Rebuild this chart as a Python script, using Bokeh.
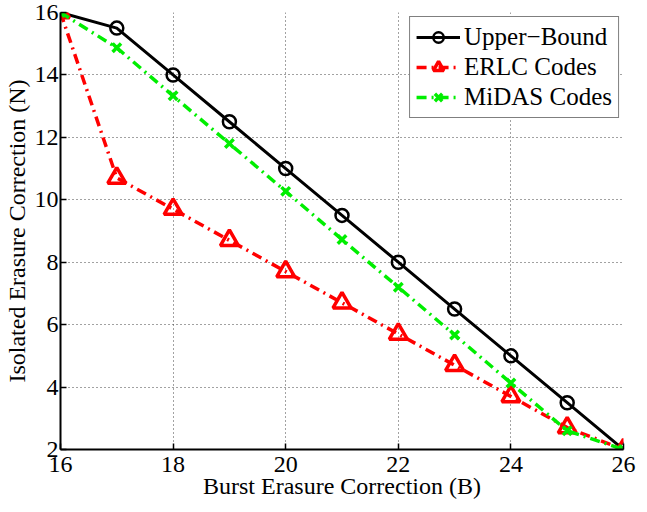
from bokeh.plotting import figure
from bokeh.models import Range1d, FixedTicker, Legend
from bokeh.embed import file_html
from bokeh.resources import INLINE

burst = [16, 17, 18, 19, 20, 21, 22, 23, 24, 25, 26]
upper_bound = [16, 15.5, 14, 12.5, 11, 9.5, 8, 6.5, 5, 3.5, 2]
erlc = [16, 10.7, 9.7, 8.7, 7.7, 6.7, 5.7, 4.7, 3.7, 2.7, 2]
midas = [16, 14.87, 13.33, 11.8, 10.27, 8.73, 7.2, 5.67, 4.13, 2.6, 2]
x_ticks = [16, 18, 20, 22, 24, 26]
y_ticks = [2, 4, 6, 8, 10, 12, 14, 16]

FONT = "Liberation Serif"

p = figure(width=639, height=504, output_backend="svg", toolbar_location=None,
           x_range=Range1d(16, 26), y_range=Range1d(2, 16),
           min_border_left=57, min_border_right=16, min_border_top=12, min_border_bottom=55)
p.outline_line_color = None
p.background_fill_color = "white"
p.border_fill_color = "white"

for ax in (p.xaxis[0], p.yaxis[0]):
    ax.major_label_text_font = FONT
    ax.major_label_text_font_size = "24px"
    ax.major_label_text_color = "black"
    ax.axis_label_text_font = FONT
    ax.axis_label_text_font_size = "24px"
    ax.axis_label_text_font_style = "normal"
    ax.axis_label_text_color = "black"
    ax.axis_line_width = 2
    ax.axis_line_color = "black"
    ax.major_tick_in = 6
    ax.major_tick_out = 0
    ax.major_tick_line_width = 1.5
    ax.minor_tick_line_color = None
    ax.major_label_standoff = 2

p.xaxis[0].ticker = FixedTicker(ticks=x_ticks)
p.yaxis[0].ticker = FixedTicker(ticks=y_ticks)
p.xaxis[0].axis_label = "Burst Erasure Correction (B)"
p.yaxis[0].axis_label = "Isolated Erasure Correction (N)"
p.xaxis[0].major_label_standoff = 7
p.xaxis[0].axis_label_standoff = -2
p.yaxis[0].axis_label_standoff = 2

for g in (p.xgrid[0], p.ygrid[0]):
    g.grid_line_color = "#444444"
    g.grid_line_dash = "1 3"
    g.grid_line_width = 1
    g.grid_line_alpha = 1

l1 = p.line(burst, upper_bound, line_color="black", line_width=3)
m1 = p.scatter(burst, upper_bound, marker="circle", size=13, fill_color=None,
               line_color="black", line_width=2.5)
l2 = p.line(burst, erlc, line_color="#ff0000", line_width=3.5, line_dash="10 5 2 5")
m2 = p.scatter(burst, erlc, marker="triangle", size=18, fill_color=None,
               line_color="#ff0000", line_width=3.5)
l3 = p.line(burst, midas, line_color="#00ee00", line_width=3.5, line_dash="10 5 2 5")
m3 = p.scatter(burst, midas, marker="x", size=12, line_color="#00ee00", line_width=3.5)

legend = Legend(items=[("Upper\u2212Bound", [l1, m1]), ("ERLC Codes", [l2, m2]),
                       ("MiDAS Codes", [l3, m3])],
                location="top_right")
legend.label_text_font = FONT
legend.label_text_font_size = "25px"
legend.label_text_color = "black"
legend.border_line_color = "black"
legend.border_line_width = 1.5
legend.background_fill_color = "white"
legend.background_fill_alpha = 1
legend.glyph_width = 44
legend.glyph_height = 26
legend.label_height = 26
legend.spacing = 2
legend.padding = 6
legend.margin = 4
legend.label_standoff = 4
p.add_layout(legend)

open("out.html", "w").write(file_html(p, INLINE))
